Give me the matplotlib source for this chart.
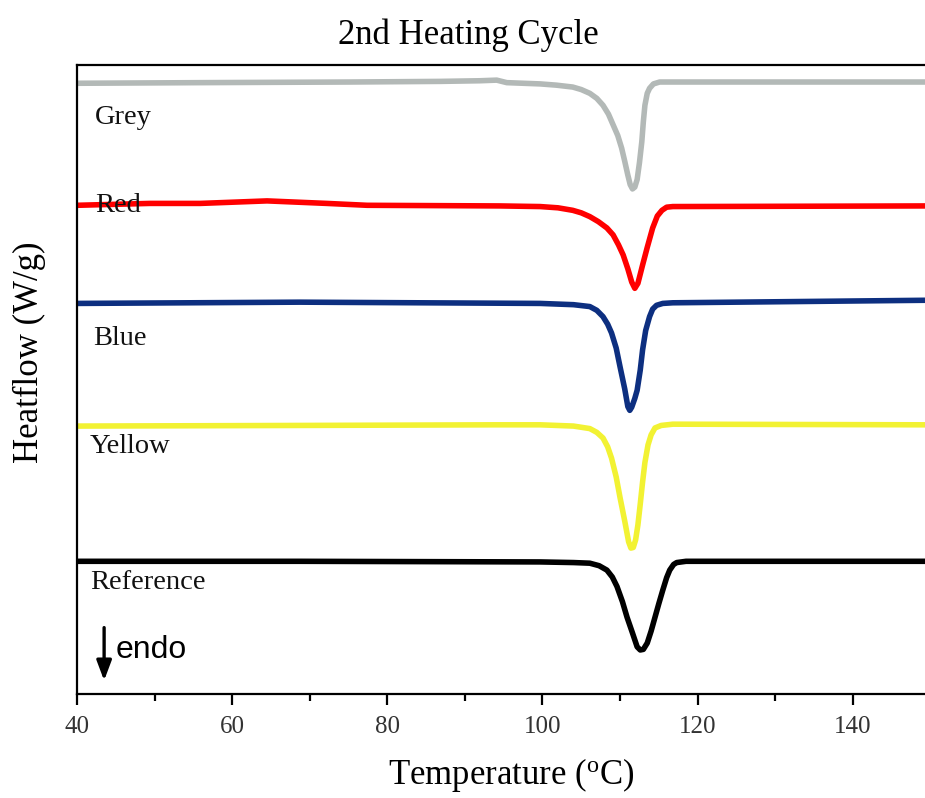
import matplotlib
matplotlib.use("Agg")
import matplotlib.pyplot as plt
from matplotlib.ticker import MultipleLocator

plt.rcParams["font.family"] = "Liberation Serif"
plt.rcParams["mathtext.fontset"] = "custom"
plt.rcParams["mathtext.rm"] = "Liberation Serif"

# temperature (C) / heat flow (W/g, stacked with offsets) for each sample
grey_t = [40.0, 55.9, 75.2, 86.8, 91.9, 94.1, 95.4, 99.7, 101.8, 103.9, 105.0,
          106.1, 107.0, 107.8, 108.5, 109.1, 109.7, 110.2, 110.6, 111.0, 111.3,
          111.6, 111.9, 112.2, 112.5, 112.8, 113.0, 113.2, 113.5, 113.8, 114.3,
          115.1, 120.3, 149.3]
grey_hf = [9.71, 9.72, 9.73, 9.74, 9.75, 9.76, 9.72, 9.70, 9.68, 9.65, 9.61,
           9.55, 9.47, 9.36, 9.22, 9.05, 8.88, 8.68, 8.47, 8.25, 8.10,
           8.03, 8.06, 8.18, 8.45, 8.78, 9.10, 9.36, 9.55, 9.63, 9.70,
           9.73, 9.73, 9.73]

red_t = [40.0, 49.4, 55.9, 64.5, 72.2, 77.4, 94.5, 99.7, 102.0, 103.9, 105.0,
         106.1, 107.2, 108.3, 109.1, 109.8, 110.4, 111.0, 111.5, 111.9, 112.3,
         112.9, 113.5, 114.2, 114.8, 115.4, 116.0, 116.8, 149.3]
red_hf = [7.77, 7.80, 7.80, 7.84, 7.80, 7.77, 7.76, 7.75, 7.73, 7.69, 7.65,
          7.59, 7.51, 7.41, 7.30, 7.14, 6.98, 6.76, 6.55, 6.45, 6.53,
          6.82, 7.10, 7.41, 7.60, 7.69, 7.74, 7.75, 7.76]

blue_t = [40.0, 68.7, 99.7, 104.0, 106.1, 107.0, 107.8, 108.4, 108.9, 109.5,
          110.0, 110.6, 111.0, 111.25, 111.5, 111.9, 112.2, 112.6, 112.9, 113.3,
          113.8, 114.2, 114.7, 115.5, 116.8, 149.3]
blue_hf = [6.21, 6.23, 6.21, 6.19, 6.16, 6.10, 6.00, 5.88, 5.74, 5.50,
           5.20, 4.85, 4.57, 4.51, 4.56, 4.70, 4.83, 5.15, 5.47, 5.78,
           6.00, 6.12, 6.18, 6.21, 6.22, 6.26]

yellow_t = [40.0, 68.7, 93.9, 99.7, 104.0, 106.1, 107.0, 107.8, 108.4, 108.9,
            109.5, 110.0, 110.6, 111.1, 111.4, 111.7, 112.0, 112.3, 112.6, 112.9,
            113.2, 113.6, 114.0, 114.5, 115.3, 116.8, 149.3]
yellow_hf = [4.26, 4.27, 4.28, 4.28, 4.26, 4.22, 4.16, 4.07, 3.93, 3.75,
             3.45, 3.12, 2.75, 2.42, 2.32, 2.33, 2.45, 2.69, 3.02, 3.37,
             3.68, 3.96, 4.12, 4.23, 4.27, 4.29, 4.28]

ref_t = [40.0, 68.7, 99.7, 104.0, 106.1, 107.3, 108.3, 109.0, 109.6, 110.3,
         110.9, 111.6, 112.2, 112.6, 113.0, 113.5, 114.0, 114.5, 115.0, 115.5,
         116.0, 116.4, 116.9, 117.3, 118.5, 149.3]
ref_hf = [2.11, 2.11, 2.10, 2.09, 2.08, 2.04, 1.97, 1.86, 1.71, 1.47,
          1.22, 0.97, 0.75, 0.70, 0.71, 0.81, 1.00, 1.22, 1.44, 1.65,
          1.85, 1.97, 2.06, 2.09, 2.11, 2.11]

names = ["Grey", "Red", "Blue", "Yellow", "Reference"]
colors = ["#b3b9b7", "#ff0000", "#0d2f80", "#f2f233", "#000000"]
label_t = [42.3, 42.3, 42.1, 41.7, 41.7]
label_hf = [9.16, 7.77, 5.66, 3.94, 1.78]

fig = plt.figure(figsize=(9.25, 7.98), dpi=100)
ax = fig.add_axes([0.0832, 0.1303, 0.9168, 0.7882])

series = [(grey_t, grey_hf), (red_t, red_hf), (blue_t, blue_hf),
          (yellow_t, yellow_hf), (ref_t, ref_hf)]
for (t, hf), c in zip(series, colors):
    ax.plot(t, hf, color=c, lw=4.0, solid_joinstyle="round", solid_capstyle="butt")

for name, x, y in zip(names, label_t, label_hf):
    ax.text(x, y, name, fontsize=20.5, ha="left", va="center", color="#111111")

# endothermic direction marker
ax.annotate("", xy=(43.5, 0.17), xytext=(43.5, 1.1),
            arrowprops=dict(arrowstyle="-|>,head_width=0.45,head_length=1.2",
                            color="black", lw=2.4))
ax.text(45.0, 0.70, "endo", fontsize=23, family="Liberation Sans",
        ha="left", va="center")

ax.set_xlim(40, 149.3)
ax.set_ylim(0, 10)
ax.xaxis.set_major_locator(MultipleLocator(20))
ax.xaxis.set_minor_locator(MultipleLocator(10))
ax.tick_params(axis="x", which="major", direction="out", length=8, width=1.6,
               labelsize=18, labelcolor="#333333", pad=8)
ax.tick_params(axis="x", which="minor", direction="out", length=5, width=1.6)
ax.set_yticks([])
ax.spines["right"].set_visible(False)
for s in ["left", "top", "bottom"]:
    ax.spines[s].set_linewidth(1.6)

ax.set_xlabel(r"Temperature ($\mathrm{^{o}}$C)", fontsize=25, labelpad=13)
ax.xaxis.label.set_x(0.512)
ax.set_ylabel("Heatflow (W/g)", fontsize=25, labelpad=22)
ax.yaxis.label.set_y(0.544)
ax.set_title("2nd Heating Cycle", fontsize=25, pad=15, x=0.461)

fig.savefig("out.png", dpi=100)
